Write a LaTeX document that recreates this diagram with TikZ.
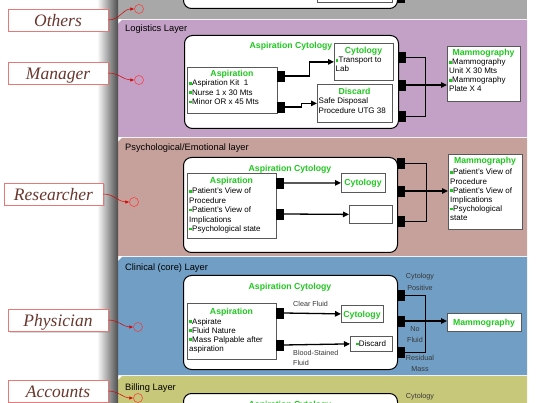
\documentclass[tikz,border=0pt]{standalone}
\usepackage{fontspec}
\setmainfont{Liberation Sans}
\newfontfamily\rolefamily{Liberation Serif}
\usetikzlibrary{arrows.meta,shadows,calc}

\definecolor{grn}{RGB}{30,200,30}
\definecolor{othersC}{RGB}{168,168,168}
\definecolor{logC}{RGB}{195,160,197}
\definecolor{psyC}{RGB}{198,161,156}
\definecolor{cliC}{RGB}{112,158,196}
\definecolor{bilC}{RGB}{200,200,122}
\definecolor{roleT}{RGB}{105,55,45}
\definecolor{roleB}{RGB}{230,120,120}
\definecolor{lblT}{RGB}{55,55,55}

\newcommand\bq{{\color{grn}\rule[1.3pt]{2.6pt}{2.6pt}}\hspace{0.4pt}}
\newcommand\tl[1]{\begin{tabular}[t]{@{}l@{}}#1\end{tabular}}
\newcommand\tc[1]{\begin{tabular}[t]{@{}c@{}}#1\end{tabular}}

\tikzset{
 role/.style={draw=roleB, line width=0.6pt, fill=white, minimum width=100pt, minimum height=22pt,
   inner sep=0pt, text height=12.5pt, text depth=0pt,
   font=\rolefamily\itshape\fontsize{17.5}{18}\selectfont, text=roleT,
   drop shadow={shadow xshift=1.5pt, shadow yshift=-1.5pt, opacity=0.3}},
 anchorpt/.style={circle, draw=red!80, line width=0.5pt, minimum size=9pt, inner sep=0pt},
 roleline/.style={draw=red!85!black, line width=0.5pt, -{Latex[length=4pt,width=3.5pt]}},
 container/.style={draw=black, line width=1pt, fill=white, rounded corners=8pt, inner sep=0pt, anchor=north west},
 ibox/.style={draw=black!65, line width=0.8pt, fill=white, inner sep=0pt, anchor=north west},
 port/.style={fill=black, draw=black, inner sep=0pt, minimum width=7pt, minimum height=10pt, anchor=west},
 ttl/.style={font=\bfseries\fontsize{8.7}{10}\selectfont, text=grn, inner sep=0pt, anchor=base},
 body/.style={font=\fontsize{8}{9.4}\selectfont, inner sep=0pt, anchor=base west},
 layerttl/.style={font=\fontsize{9.3}{11}\selectfont, inner sep=0pt, anchor=base west},
 flow/.style={line width=1.3pt, -{Triangle[length=6pt,width=5.5pt]}},
 joinline/.style={line width=0.9pt},
 lbl/.style={font=\fontsize{7.2}{11.5}\selectfont, text=lblT, inner sep=0pt, anchor=base},
}

\begin{document}
\begin{tikzpicture}[x=1pt,y=-1pt]
\useasboundingbox (0,0) rectangle (538,403);
\clip (0,0) rectangle (538,403);

% layers
\fill[othersC] (118,-5) rectangle (527,19);
\fill[logC] (118,24) -- (122,20) -- (527,20) -- (527,137) -- (118,137) -- cycle;
\fill[psyC] (118,142) -- (122,138) -- (527,138) -- (527,256) -- (118,256) -- cycle;
\fill[cliC] (118,261) -- (122,257) -- (527,257) -- (527,375) -- (118,375) -- cycle;
\fill[bilC] (118,380) -- (122,376) -- (527,376) -- (527,410) -- (118,410) -- cycle;
\shade[left color=white, right color=black!70] (97,-5) rectangle (118,410);

% ---------- Others layer (partly visible)
\node[container, anchor=south west, minimum width=214pt, minimum height=60pt] (oc) at (183,9) {};
\node[ibox, anchor=south west, minimum width=75pt, minimum height=30pt] (ob) at (317,3) {};
\node[port, anchor=south west] (op) at (397,2) {};

% ---------- Logistics layer
\node[layerttl] at (125,32) {Logistics Layer};
\node[container, minimum width=214pt, minimum height=93pt] (lc) at (184,35) {};
\node[ttl] at (291,49) {Aspiration Cytology};
\node[ibox, minimum width=90pt, minimum height=46pt] (la) at (187,67) {};
\node[ttl] at (232,77) {Aspiration};
\node[body] at (189,86) {\tl{\bq Aspiration Kit\ \ 1\\\bq Nurse 1 x 30 Mts\\\bq Minor OR x 45 Mts}};
\node[port] (lp1) at (277,76) {};
\node[port] (lp2) at (277,107) {};
\node[ibox, minimum width=59pt, minimum height=37pt] (lcy) at (334,43) {};
\node[ttl] at (363.5,54) {Cytology};
\node[body, font=\fontsize{8}{8.5}\selectfont] at (335.5,63) {\tl{\bq Transport to\\Lab}};
\node[ibox, minimum width=75pt, minimum height=38pt] (ldi) at (317,84) {};
\node[ttl] at (354.5,95) {Discard};
\node[body] at (318.5,104) {\tl{Safe Disposal\\Procedure UTG 38}};
\draw[flow] (lp1.east) -- ++(25,0) |- (lcy.west);
\draw[flow] (lp2.east) -- ++(17,0) |- (ldi.west);
\node[port] (lq1) at (398,57) {};
\node[port] (lq2) at (398,85) {};
\node[port] (lq3) at (398,116) {};
\draw[joinline] (lq1.east) -- ++(20,0) |- (lq3.east);
\node[ibox, minimum width=73pt, minimum height=55pt] (lm) at (447,46) {};
\draw[flow] (lq2.east) -- (lq2.east -| lm.west);
\node[ttl] at (483.5,56) {Mammography};
\node[body, font=\fontsize{8}{9}\selectfont] at (449,65) {\tl{\bq Mammography\\Unit X 30 Mts\\\bq Mammography\\Plate X 4}};

% ---------- Psychological layer
\node[layerttl] at (125,151) {Psychological/Emotional layer};
\node[container, minimum width=214pt, minimum height=95pt] (pc) at (183,157) {};
\node[ttl] at (290,172) {Aspiration Cytology};
\node[ibox, minimum width=89pt, minimum height=65pt] (pa) at (187,173) {};
\node[ttl] at (231.5,184) {Aspiration};
\node[body] at (189,194) {\tl{\bq Patient’s View of\\Procedure\\\bq Patient’s View of\\Implications\\\bq Psychological state}};
\node[port] (pp1) at (276,183) {};
\node[port] (pp2) at (276,214) {};
\node[ibox, minimum width=44pt, minimum height=19pt] (pcy) at (341,173) {};
\node[ttl] at (363,185.5) {Cytology};
\node[ibox, minimum width=43pt, minimum height=18pt] (pe) at (349,205) {};
\draw[flow] (pp1.east) -- (pcy.west);
\draw[flow] (pp2.east) -- (pe.west);
\node[port] (pq1) at (397,163) {};
\node[port] (pq2) at (397,191) {};
\node[port] (pq3) at (397,221) {};
\draw[joinline] (pq1.east) -- ++(22,0) |- (pq3.east);
\node[ibox, minimum width=74pt, minimum height=75pt] (pm) at (448,154) {};
\draw[flow] (pq2.east) -- (pq2.east -| pm.west);
\node[ttl] at (485,164) {Mammography};
\node[body, font=\fontsize{8}{9.2}\selectfont] at (450,175) {\tl{\bq Patient’s View of\\Procedure\\\bq Patient’s View of\\Implications\\\bq Psychological\\state}};

% ---------- Clinical layer
\node[layerttl] at (125,271) {Clinical (core) Layer};
\node[container, minimum width=214pt, minimum height=94pt] (cc) at (183,275) {};
\node[ttl] at (290,290) {Aspiration Cytology};
\node[ibox, minimum width=89pt, minimum height=56pt] (ca) at (187,303) {};
\node[ttl] at (231.5,315) {Aspiration};
\node[body, font=\fontsize{8}{9}\selectfont] at (189,324) {\tl{\bq Aspirate\\\bq Fluid Nature\\\bq Mass Palpable after\\aspiration}};
\node[port] (cp1) at (276,313) {};
\node[port] (cp2) at (276,345) {};
\node[ibox, minimum width=42pt, minimum height=17pt] (ccy) at (341,305) {};
\node[ttl] at (362,317) {Cytology};
\node[ibox, minimum width=42pt, minimum height=15pt] (cdi) at (350,336) {};
\node[body, anchor=base] at (371,346.5) {\bq Discard};
\draw[flow] (cp1.east) -- (ccy.west);
\draw[flow] (cp2.east) -- (cdi.west);
\node[lbl, anchor=base west] at (293,307) {Clear Fluid};
\node[lbl, anchor=base west, font=\fontsize{7.2}{10}\selectfont] at (293,355) {\tl{Blood-Stained\\Fluid}};
\node[port] (cq1) at (397,295) {};
\node[port] (cq2) at (397,321) {};
\node[port] (cq3) at (397,352) {};
\draw[joinline] (cq1.east) -- ++(21,0) |- (cq3.east);
\node[ibox, minimum width=74pt, minimum height=18pt] (cm) at (447,313) {};
\draw[flow] (cq2.east) -- (cq2.east -| cm.west);
\node[ttl] at (484,325.5) {Mammography};
\node[lbl] at (420,279) {\tc{Cytology\\Positive}};
\node[lbl] at (415,331) {\tc{No\\Fluid}};
\node[lbl] at (420,360) {\tc{Residual\\Mass}};

% ---------- Billing layer
\node[layerttl] at (125,390) {Billing Layer};
\node[container, minimum width=214pt, minimum height=60pt] (bc) at (183,393) {};
\node[ttl] at (290,407) {Aspiration Cytology};
\node[lbl] at (420,398) {\tc{Cytology\\Positive}};

% ---------- Roles
\node[role] (rOth) at (58,20) {Others};
\node[role] (rMan) at (58,73) {Manager};
\node[role, minimum width=99pt] (rRes) at (53.5,194) {Researcher};
\node[role] (rPhy) at (58,320) {Physician};
\node[role] (rAcc) at (58,391) {Accounts};
\node[anchorpt] (kOth) at (139,9) {};
\node[anchorpt] (kMan) at (139,80) {};
\node[anchorpt] (kRes) at (134,202) {};
\node[anchorpt] (kPhy) at (138,327) {};
\node[anchorpt] (kAcc) at (138,398) {};
\draw[roleline] (rOth.east) to[out=0,in=180] (kOth.west);
\draw[roleline] (rMan.east) to[out=0,in=180] (kMan.west);
\draw[roleline] (rRes.east) to[out=0,in=180] (kRes.west);
\draw[roleline] (rPhy.east) to[out=0,in=180] (kPhy.west);
\draw[roleline] (rAcc.east) to[out=0,in=180] (kAcc.west);
\end{tikzpicture}
\end{document}
